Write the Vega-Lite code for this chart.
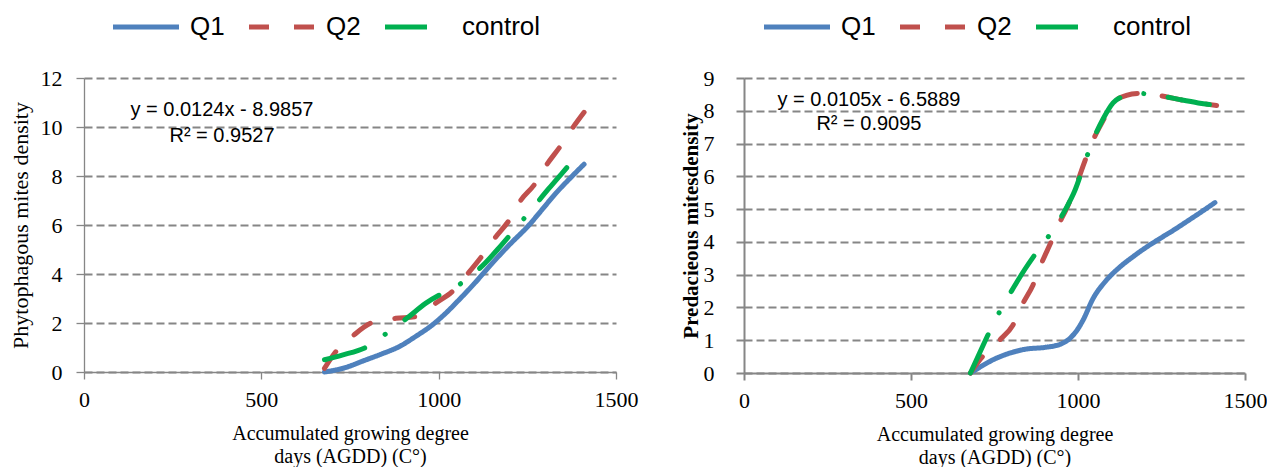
{
  "$schema": "https://vega.github.io/schema/vega-lite/v6.json",
  "padding": {"left": 8, "top": 14, "right": 0, "bottom": 0},
  "spacing": 42,
  "datasets": {
    "phyto": [
      {"agdd": 678, "density": 0, "series": "Q1"},
      {"agdd": 730, "density": 0.15, "series": "Q1"},
      {"agdd": 794, "density": 0.49, "series": "Q1"},
      {"agdd": 840, "density": 0.74, "series": "Q1"},
      {"agdd": 888, "density": 1.03, "series": "Q1"},
      {"agdd": 935, "density": 1.45, "series": "Q1"},
      {"agdd": 982, "density": 1.92, "series": "Q1"},
      {"agdd": 1020, "density": 2.4, "series": "Q1"},
      {"agdd": 1057, "density": 2.94, "series": "Q1"},
      {"agdd": 1100, "density": 3.6, "series": "Q1"},
      {"agdd": 1151, "density": 4.44, "series": "Q1"},
      {"agdd": 1200, "density": 5.2, "series": "Q1"},
      {"agdd": 1255, "density": 6.0, "series": "Q1"},
      {"agdd": 1290, "density": 6.6, "series": "Q1"},
      {"agdd": 1330, "density": 7.29, "series": "Q1"},
      {"agdd": 1370, "density": 7.9, "series": "Q1"},
      {"agdd": 1410, "density": 8.48, "series": "Q1"},
      {"agdd": 678, "density": 0.15, "series": "Q2"},
      {"agdd": 710, "density": 0.83, "series": "Q2"},
      {"agdd": 761, "density": 1.51, "series": "Q2"},
      {"agdd": 808, "density": 1.99, "series": "Q2"},
      {"agdd": 845, "density": 2.12, "series": "Q2"},
      {"agdd": 879, "density": 2.19, "series": "Q2"},
      {"agdd": 935, "density": 2.26, "series": "Q2"},
      {"agdd": 965, "density": 2.5, "series": "Q2"},
      {"agdd": 991, "density": 2.8, "series": "Q2"},
      {"agdd": 1038, "density": 3.28, "series": "Q2"},
      {"agdd": 1083, "density": 4.03, "series": "Q2"},
      {"agdd": 1121, "density": 4.71, "series": "Q2"},
      {"agdd": 1160, "density": 5.5, "series": "Q2"},
      {"agdd": 1198, "density": 6.18, "series": "Q2"},
      {"agdd": 1231, "density": 7.0, "series": "Q2"},
      {"agdd": 1269, "density": 7.63, "series": "Q2"},
      {"agdd": 1306, "density": 8.49, "series": "Q2"},
      {"agdd": 1341, "density": 9.17, "series": "Q2"},
      {"agdd": 1377, "density": 9.95, "series": "Q2"},
      {"agdd": 1410, "density": 10.6, "series": "Q2"},
      {"agdd": 678, "density": 0.5, "series": "control"},
      {"agdd": 728, "density": 0.69, "series": "control"},
      {"agdd": 798, "density": 1.03, "series": "control"},
      {"agdd": 855, "density": 1.6, "series": "control"},
      {"agdd": 911, "density": 2.2, "series": "control"},
      {"agdd": 964, "density": 2.81, "series": "control"},
      {"agdd": 1020, "density": 3.28, "series": "control"},
      {"agdd": 1050, "density": 3.5, "series": "control"},
      {"agdd": 1081, "density": 3.8, "series": "control"},
      {"agdd": 1132, "density": 4.46, "series": "control"},
      {"agdd": 1175, "density": 5.15, "series": "control"},
      {"agdd": 1219, "density": 5.89, "series": "control"},
      {"agdd": 1264, "density": 6.67, "series": "control"},
      {"agdd": 1309, "density": 7.46, "series": "control"},
      {"agdd": 1350, "density": 8.15, "series": "control"},
      {"agdd": 1395, "density": 8.9, "series": "control"}
    ],
    "preda": [
      {"agdd": 678, "density": 0, "series": "Q1"},
      {"agdd": 710, "density": 0.2, "series": "Q1"},
      {"agdd": 745, "density": 0.4, "series": "Q1"},
      {"agdd": 800, "density": 0.62, "series": "Q1"},
      {"agdd": 845, "density": 0.73, "series": "Q1"},
      {"agdd": 900, "density": 0.78, "series": "Q1"},
      {"agdd": 945, "density": 0.87, "series": "Q1"},
      {"agdd": 975, "density": 1.05, "series": "Q1"},
      {"agdd": 1000, "density": 1.35, "series": "Q1"},
      {"agdd": 1015, "density": 1.61, "series": "Q1"},
      {"agdd": 1045, "density": 2.27, "series": "Q1"},
      {"agdd": 1085, "density": 2.83, "series": "Q1"},
      {"agdd": 1125, "density": 3.23, "series": "Q1"},
      {"agdd": 1165, "density": 3.55, "series": "Q1"},
      {"agdd": 1205, "density": 3.84, "series": "Q1"},
      {"agdd": 1245, "density": 4.1, "series": "Q1"},
      {"agdd": 1285, "density": 4.35, "series": "Q1"},
      {"agdd": 1330, "density": 4.65, "series": "Q1"},
      {"agdd": 1370, "density": 4.92, "series": "Q1"},
      {"agdd": 1410, "density": 5.2, "series": "Q1"},
      {"agdd": 678, "density": 0, "series": "Q2"},
      {"agdd": 710, "density": 0.45, "series": "Q2"},
      {"agdd": 765, "density": 1.0, "series": "Q2"},
      {"agdd": 805, "density": 1.46, "series": "Q2"},
      {"agdd": 835, "density": 2.12, "series": "Q2"},
      {"agdd": 865, "density": 2.68, "series": "Q2"},
      {"agdd": 890, "density": 3.33, "series": "Q2"},
      {"agdd": 917, "density": 3.94, "series": "Q2"},
      {"agdd": 945, "density": 4.59, "series": "Q2"},
      {"agdd": 965, "density": 5.0, "series": "Q2"},
      {"agdd": 990, "density": 5.6, "series": "Q2"},
      {"agdd": 1020, "density": 6.45, "series": "Q2"},
      {"agdd": 1045, "density": 7.1, "series": "Q2"},
      {"agdd": 1075, "density": 7.7, "series": "Q2"},
      {"agdd": 1105, "density": 8.24, "series": "Q2"},
      {"agdd": 1145, "density": 8.47, "series": "Q2"},
      {"agdd": 1180, "density": 8.53, "series": "Q2"},
      {"agdd": 1240, "density": 8.47, "series": "Q2"},
      {"agdd": 1305, "density": 8.34, "series": "Q2"},
      {"agdd": 1360, "density": 8.24, "series": "Q2"},
      {"agdd": 1415, "density": 8.16, "series": "Q2"},
      {"agdd": 678, "density": 0, "series": "control"},
      {"agdd": 705, "density": 0.6, "series": "control"},
      {"agdd": 735, "density": 1.26, "series": "control"},
      {"agdd": 768, "density": 1.92, "series": "control"},
      {"agdd": 805, "density": 2.57, "series": "control"},
      {"agdd": 840, "density": 3.15, "series": "control"},
      {"agdd": 880, "density": 3.74, "series": "control"},
      {"agdd": 925, "density": 4.36, "series": "control"},
      {"agdd": 963, "density": 5.0, "series": "control"},
      {"agdd": 990, "density": 5.55, "series": "control"},
      {"agdd": 1017, "density": 6.32, "series": "control"},
      {"agdd": 1042, "density": 7.03, "series": "control"},
      {"agdd": 1075, "density": 7.75, "series": "control"},
      {"agdd": 1105, "density": 8.24, "series": "control"},
      {"agdd": 1145, "density": 8.47, "series": "control"},
      {"agdd": 1180, "density": 8.53, "series": "control"},
      {"agdd": 1240, "density": 8.47, "series": "control"},
      {"agdd": 1305, "density": 8.34, "series": "control"},
      {"agdd": 1360, "density": 8.24, "series": "control"},
      {"agdd": 1415, "density": 8.16, "series": "control"}
    ],
    "phytoEq": [
      {"agdd": 389, "density": 10.69, "label": "y = 0.0124x - 8.9857"},
      {"agdd": 389, "density": 9.65, "label": "R² = 0.9527"}
    ],
    "predaEq": [
      {"agdd": 374, "density": 8.34, "label": "y = 0.0105x - 6.5889"},
      {"agdd": 374, "density": 7.61, "label": "R² = 0.9095"}
    ]
  },
  "config": {
    "view": {"stroke": null},
    "axis": {
      "labelFont": "Liberation Serif",
      "labelFontSize": 22,
      "labelColor": "#000000",
      "titleFont": "Liberation Serif",
      "titleColor": "#000000",
      "titleFontWeight": "normal",
      "domainColor": "#868686",
      "tickColor": "#868686",
      "gridColor": "#868686",
      "gridDash": [8, 4],
      "gridWidth": 2,
      "labelOverlap": false,
      "labelFlush": false
    },
    "legend": {
      "orient": "none",
      "direction": "horizontal",
      "title": null,
      "symbolType": "M-1,0H5.6",
      "symbolSize": 400,
      "symbolStrokeWidth": 5,
      "labelFont": "Liberation Sans",
      "labelFontSize": 26,
      "labelColor": "#000000",
      "columnPadding": 14,
      "labelOffset": 54,
      "padding": 0
    }
  },
  "resolve": {
    "scale": {"color": "independent", "strokeDash": "independent", "x": "independent", "y": "independent"},
    "legend": {"color": "independent", "strokeDash": "independent"}
  },
  "hconcat": [
    {
      "width": 532,
      "height": 294,
      "encoding": {
        "x": {
          "field": "agdd", "type": "quantitative",
          "scale": {"domain": [0, 1500]},
          "axis": {
            "values": [0, 500, 1000, 1500], "format": "d", "grid": false, "tickSize": 7, "labelPadding": 10,
            "labelFont": "Liberation Serif", "labelFontSize": 22,
            "domainWidth": 1.3, "tickWidth": 1.3,
            "title": ["Accumulated growing degree", "days (AGDD) (C°)"],
            "titleFontSize": 20, "titleLineHeight": 23, "titlePadding": 13
          }
        },
        "y": {
          "field": "density", "type": "quantitative",
          "scale": {"domain": [0, 12]},
          "axis": {
            "values": [0, 2, 4, 6, 8, 10, 12], "format": "d", "grid": true, "tickSize": 8, "labelPadding": 14,
            "labelFont": "Liberation Serif", "labelFontSize": 22,
            "domainWidth": 1.3, "tickWidth": 1.3,
            "title": "Phytophagous mites  density", "titleFontSize": 22, "titlePadding": 8
          }
        }
      },
      "layer": [
        {
          "data": {"name": "phyto"},
          "mark": {"type": "line", "strokeWidth": 5, "strokeCap": "round", "interpolate": "monotone"},
          "encoding": {
            "color": {
              "field": "series", "type": "nominal",
              "scale": {"domain": ["Q1", "Q2", "control"], "range": ["#4F81BD", "#C0504D", "#00B050"]},
              "legend": {"legendX": 26, "legendY": -64}
            },
            "strokeDash": {
              "field": "series", "type": "nominal",
              "scale": {"domain": ["Q1", "Q2", "control"], "range": [[1, 0], [20, 25], [42, 24.5, 0.1, 24.5]]},
              "legend": {"legendX": 26, "legendY": -64}
            }
          }
        },
        {
          "data": {"name": "phytoEq"},
          "mark": {"type": "text", "font": "Liberation Sans", "fontSize": 20, "align": "center", "baseline": "middle", "color": "#000000"},
          "encoding": {
            "text": {"field": "label", "type": "nominal"}
          }
        }
      ]
    },
    {
      "width": 501,
      "height": 295,
      "encoding": {
        "x": {
          "field": "agdd", "type": "quantitative",
          "scale": {"domain": [0, 1500]},
          "axis": {
            "values": [0, 500, 1000, 1500], "format": "d", "grid": false, "tickSize": 7, "labelPadding": 10,
            "labelFont": "Liberation Serif", "labelFontSize": 22,
            "domainWidth": 2, "tickWidth": 2,
            "title": ["Accumulated growing degree", "days (AGDD) (C°)"],
            "titleFontSize": 20, "titleLineHeight": 23, "titlePadding": 13
          }
        },
        "y": {
          "field": "density", "type": "quantitative",
          "scale": {"domain": [0, 9]},
          "axis": {
            "values": [0, 1, 2, 3, 4, 5, 6, 7, 8, 9], "format": "d", "grid": true, "tickSize": 8, "labelPadding": 22,
            "labelFont": "Liberation Serif", "labelFontSize": 22,
            "domainWidth": 2, "tickWidth": 2,
            "title": "Predacieous mitesdensity", "titleFontSize": 21, "titleFontWeight": "bold", "titlePadding": 2
          }
        }
      },
      "layer": [
        {
          "data": {"name": "preda"},
          "mark": {"type": "line", "strokeWidth": 5, "strokeCap": "round", "interpolate": "monotone"},
          "encoding": {
            "color": {
              "field": "series", "type": "nominal",
              "scale": {"domain": ["Q1", "Q2", "control"], "range": ["#4F81BD", "#C0504D", "#00B050"]},
              "legend": {"legendX": 17, "legendY": -64}
            },
            "strokeDash": {
              "field": "series", "type": "nominal",
              "scale": {"domain": ["Q1", "Q2", "control"], "range": [[1, 0], [20, 25], [42, 24.5, 0.1, 24.5]]},
              "legend": {"legendX": 17, "legendY": -64}
            }
          }
        },
        {
          "data": {"name": "predaEq"},
          "mark": {"type": "text", "font": "Liberation Sans", "fontSize": 20, "align": "center", "baseline": "middle", "color": "#000000"},
          "encoding": {
            "text": {"field": "label", "type": "nominal"}
          }
        }
      ]
    }
  ]
}
